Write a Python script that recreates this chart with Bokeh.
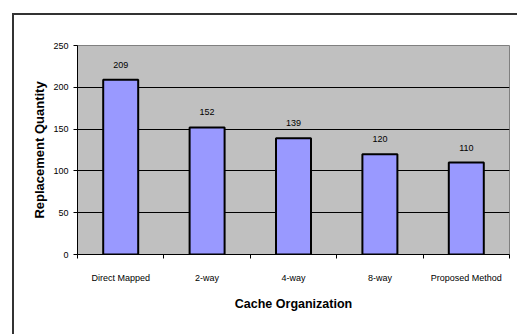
from bokeh.plotting import figure
from bokeh.models import Range1d, FixedTicker, LabelSet, ColumnDataSource, InlineStyleSheet
from bokeh.core.properties import value
from bokeh.embed import file_html
from bokeh.resources import INLINE

categories = ["Direct Mapped", "2-way", "4-way", "8-way", "Proposed Method"]
values = [209, 152, 139, 120, 110]
y_ticks = [0, 50, 100, 150, 200, 250]

xs = [i + 0.5 for i in range(len(categories))]
src = ColumnDataSource(dict(x=xs, top=values, label=[str(v) for v in values]))

FONT = "Liberation Sans"

p = figure(width=517, height=334, output_backend="svg", toolbar_location=None,
           x_range=Range1d(0, len(categories)), y_range=Range1d(0, 250),
           min_border_left=77, min_border_right=8, min_border_top=45, min_border_bottom=80,
           background_fill_color="#C0C0C0", border_fill_color="white")

p.outline_line_color = "#808080"
p.outline_line_width = 1

p.vbar(x="x", top="top", width=0.405, bottom=0, source=src,
       fill_color="#9999FF", line_color="black", line_width=2)

p.add_layout(LabelSet(x="x", y="top", text="label", source=src, y_offset=15,
                      text_align="center", text_baseline="middle",
                      text_font=value(FONT), text_font_size="9px", text_color="black"))

# x axis
xa = p.xaxis[0]
xa.ticker = FixedTicker(ticks=xs, minor_ticks=list(range(len(categories) + 1)))
xa.major_label_overrides = {x: c for x, c in zip(xs, categories)}
xa.major_tick_line_color = None
xa.minor_tick_in = 0
xa.minor_tick_out = 4
xa.minor_tick_line_color = "black"
xa.axis_line_color = "black"
xa.major_label_text_font = FONT
xa.major_label_text_font_size = "9px"
xa.major_label_text_color = "black"
xa.major_label_standoff = 12
xa.axis_label = "Cache Organization"
xa.axis_label_text_font = FONT
xa.axis_label_text_font_size = "12.5px"
xa.axis_label_text_font_style = "bold"
xa.axis_label_text_color = "black"
xa.axis_label_standoff = 11

# y axis
ya = p.yaxis[0]
ya.ticker = FixedTicker(ticks=y_ticks)
ya.major_tick_in = 0
ya.major_tick_out = 4
ya.minor_tick_line_color = None
ya.axis_line_color = "black"
ya.major_label_text_font = FONT
ya.major_label_text_font_size = "9px"
ya.major_label_text_color = "black"
ya.major_label_standoff = 5
ya.axis_label = "Replacement Quantity"
ya.axis_label_text_font = FONT
ya.axis_label_text_font_size = "13px"
ya.axis_label_text_font_style = "bold"
ya.axis_label_text_color = "black"
ya.axis_label_standoff = 3

p.xgrid.visible = False
p.ygrid.ticker = FixedTicker(ticks=[50, 100, 150, 200])
p.ygrid.grid_line_color = "black"
p.ygrid.grid_line_width = 1

# outer chart border (cropped at right and bottom, as in the reference)
p.stylesheets = [InlineStyleSheet(css="""
:host { position: relative; }
:host::after {
  content: ""; position: absolute; left: 12px; top: 13px; right: 0; bottom: 0;
  border-left: 2px solid #333; border-top: 2px solid #333;
  pointer-events: none; box-sizing: border-box;
}
""")]

open("out.html", "w").write(file_html(p, INLINE))
